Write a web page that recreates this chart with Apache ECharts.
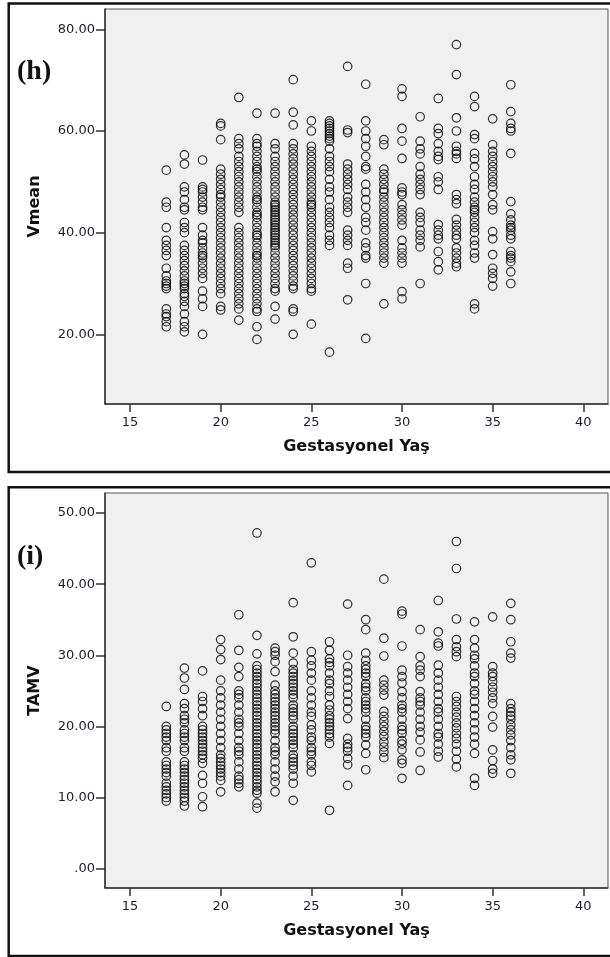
<!DOCTYPE html>
<html>
<head>
<meta charset="utf-8">
<script src="https://cdn.jsdelivr.net/npm/echarts@6/dist/echarts.min.js"></script>
<style>
  html, body { margin: 0; padding: 0; background: #fff; }
  #chart { width: 610px; height: 957px; }
</style>
</head>
<body>
<div id="chart"></div>
<script>
// gestational age (x) columns
const ages = [17, 18, 19, 20, 21, 22, 23, 24, 25, 26, 27, 28, 29, 30, 31, 32, 33, 34, 35, 36];

// Vmean readings, one list per age
const vmean = [
  [52.3, 46, 45, 41, 38.5, 37.5, 36.5, 35.5, 33, 31.5, 30.5, 30, 29.5, 29, 25, 24, 23.5, 22.5, 21.5],
  [55.3, 53.5, 49, 48, 46.5, 45, 44.5, 42, 41, 40, 37.5, 36.5, 35.5, 34.5, 33.5, 32.5, 31.5, 30.5, 30, 29.5, 29, 28, 27.5, 26.5, 25.5, 24, 22.5, 21.5, 20.5],
  [54.3, 49, 48.5, 48, 47, 46, 45, 44.5, 41, 39.5, 38.5, 38, 37, 36, 35.5, 35, 34, 33, 32, 31, 28.5, 27, 25.5, 20],
  [61.5, 61, 58.3, 52.5, 51.5, 50.5, 49.5, 48.5, 47.5, 47, 46, 45, 44, 43, 42, 41, 40, 39, 38, 37, 36, 35, 34, 33, 32, 31, 30, 29, 28, 25.5, 24.8],
  [66.6, 58.5, 57.5, 56.5, 55, 54, 53, 52, 51, 50, 49, 48, 47, 46, 45, 44, 41, 40, 39, 38, 37, 36, 35, 34, 33, 32, 31, 30, 29, 28, 27, 26, 25, 22.8],
  [63.5, 58.5, 57.5, 57, 56, 55, 54, 53, 52.5, 52, 51, 50, 49, 48, 47, 46.5, 46, 45, 44, 43.5, 43, 42, 41, 40, 39.5, 39, 38, 37, 36, 35.5, 35, 34, 33, 32, 31, 30, 29, 28, 27, 26, 25, 24.5, 21.5, 19],
  [63.5, 57.5, 56.5, 55, 54, 53, 52, 51, 50, 49, 48, 47, 46, 45.5, 45, 44.5, 44, 43.5, 43, 42.5, 42, 41.5, 41, 40.5, 40, 39.5, 39, 38.5, 38, 37.5, 37, 36, 35, 34, 33, 32, 31, 30, 29, 28.5, 25.5, 23],
  [70.1, 63.7, 61.2, 57.5, 56.5, 55.5, 54.5, 53.5, 52.5, 51.5, 50.5, 49.5, 48.5, 47.5, 46.5, 45.5, 44.5, 43.5, 42.5, 41.5, 40.5, 39.5, 38.5, 37.5, 36.5, 35.5, 34.5, 33.5, 32.5, 31.5, 30.5, 29.5, 29, 25, 24.5, 20],
  [62, 60, 57, 56, 55, 54, 53, 52, 51, 50, 49, 48, 47, 46, 45.5, 45, 44, 43, 42, 41, 40, 39, 38, 37, 36, 35, 34, 33, 32, 31, 30, 29, 28.5, 22],
  [62, 61.5, 61, 60.5, 60, 59.5, 59, 58.5, 58, 56.5, 55, 54, 53, 52, 50.5, 49, 48, 46.5, 45, 44, 43, 42, 41, 39.5, 38.5, 37.5, 16.5],
  [72.7, 60.2, 59.7, 53.5, 52.5, 51.5, 50.5, 49.5, 48.5, 47, 46, 45, 44, 40.5, 39.5, 38.5, 37.5, 34, 33, 26.8],
  [69.2, 62, 60, 58.5, 57, 55, 53, 52.5, 49.5, 48, 46.5, 45, 43, 42, 40.5, 38, 37, 35.5, 35, 30, 19.2],
  [58.3, 57.3, 52.5, 51.5, 50.5, 49.5, 48.5, 48, 47, 46, 45, 44, 43, 42, 41, 40, 39, 38, 37, 36, 35, 34, 26],
  [68.3, 66.8, 60.5, 58, 54.6, 48.8, 48, 47.5, 45.5, 44.5, 43.5, 42.5, 41.5, 38.5, 37, 36, 35, 34, 28.4, 27],
  [62.8, 58, 56.5, 55.5, 53, 51.5, 50.5, 49.5, 48.5, 47.5, 44, 43, 42, 40.5, 39.5, 38.5, 37.2, 30],
  [66.4, 60.5, 59.5, 57.5, 56, 55, 54.4, 51, 50, 48.5, 41.6, 40.5, 39.5, 38.8, 36.3, 34.3, 32.7],
  [77, 71.1, 62.6, 60, 57, 56, 55.5, 54.6, 47.5, 46.5, 45.7, 42.6, 41.5, 40.5, 39.5, 38.8, 37, 36, 35, 34, 33.3],
  [66.8, 64.8, 59.3, 58.5, 55.6, 54.5, 53, 51, 49.5, 48.5, 47, 46, 45, 44.5, 44, 43, 42, 41, 40, 38.5, 37.5, 36, 35, 26, 25],
  [62.4, 57.3, 56, 55, 54, 53, 52, 51, 50, 49, 47.5, 45.5, 44.5, 40.2, 38.8, 35.7, 33, 32, 31, 29.5],
  [69.1, 63.8, 61.5, 60.5, 60, 55.6, 46.1, 43.7, 42.5, 41.5, 41, 40.5, 39.5, 38.8, 36.3, 35.5, 35, 34.3, 32.3, 30]
];

// TAMV readings, one list per age
const tamv = [
  [22.8, 20, 19.5, 19, 18.5, 18, 17, 16.5, 15, 14.5, 14, 13.5, 13, 12, 11.5, 11, 10.5, 10, 9.5],
  [28.2, 26.8, 25.2, 23.2, 22.5, 21.5, 21, 20.5, 19.5, 19, 18.5, 18, 17, 16.5, 15, 14.5, 14, 13.5, 13, 12.5, 12, 11.5, 11, 10.5, 10, 9.5, 8.8],
  [27.8, 24.2, 23.5, 22.5, 21.5, 20, 19.5, 19, 18.5, 18, 17.5, 17, 16.5, 16, 15.5, 14.8, 13.1, 12, 10.1, 8.7],
  [32.2, 30.8, 29.4, 26.5, 25, 24, 23, 22, 21, 20, 19, 18, 17, 16, 15.5, 15, 14.5, 14, 13.5, 13, 12.4, 10.8],
  [35.7, 30.7, 28.3, 27, 25, 24.5, 24, 23, 22, 21, 20.5, 20, 19, 18, 17, 16.5, 16, 15, 14, 13, 12.5, 12, 11.5],
  [47.2, 32.8, 30.2, 28.5, 28, 27.5, 27, 26.5, 26, 25.5, 25, 24.5, 24, 23.5, 23, 22.5, 22, 21.5, 21, 20.5, 20, 19.5, 19, 18.5, 18, 17.5, 17, 16.5, 16, 15.5, 15, 14.5, 14, 13.5, 13, 12.5, 12, 11.5, 11, 10.6, 9.2, 8.5],
  [31, 30.5, 30, 29.1, 27.7, 25.8, 25, 24.5, 24, 23.5, 23, 22.5, 22, 21.5, 21, 20.5, 20, 19.5, 19, 18, 17, 16.5, 16, 15, 14, 13, 12.2, 10.8],
  [37.4, 32.6, 30.3, 28.9, 28, 27.5, 27, 26.5, 26, 25.5, 25, 24.5, 24, 23, 22.5, 22, 21.5, 21, 20, 19.5, 19, 18.5, 18, 17.5, 17, 16, 15.5, 15, 14.5, 14, 13, 12, 9.6],
  [43, 30.5, 29.3, 28.5, 27.5, 26.5, 25, 24, 23, 22, 21.4, 20.2, 19.5, 18.5, 18, 17, 16.5, 16, 15, 14.5, 13.6],
  [31.9, 30.7, 29.5, 29, 28.5, 27.5, 26.5, 26, 25, 24.2, 23, 22.3, 21.5, 21, 20.5, 20, 19.5, 19, 18.5, 17.6, 8.2],
  [37.2, 30, 28.4, 27.5, 26.5, 25.5, 24.5, 23.5, 22.5, 21.1, 18.3, 17.5, 17, 16.5, 15.5, 14.6, 11.7],
  [35, 33.6, 30.3, 29.3, 28.5, 28, 27.5, 27, 26, 25.5, 25, 24, 23.5, 23, 22.5, 22, 21, 20, 19.5, 19, 18.5, 17.4, 16.2, 13.9],
  [40.7, 32.4, 29.9, 26.5, 25.8, 25.1, 24.4, 22.1, 21.4, 20.7, 20, 19.3, 18.6, 17.8, 17.1, 16.4, 15.6],
  [36.2, 35.8, 31.3, 27.9, 27, 26.1, 24.9, 24, 23, 22.5, 22, 21, 20, 19.5, 19, 18, 17.5, 16.7, 15.3, 14.8, 12.7],
  [33.6, 29.8, 28.5, 27.9, 27, 24.9, 24, 23.5, 23, 22, 21, 20, 19.2, 18.1, 16.4, 13.8],
  [37.7, 33.3, 31.7, 31.3, 28.6, 27.5, 26.5, 25.5, 24.5, 23.5, 22.5, 22, 21, 20, 19, 18.5, 17.5, 16.5, 15.7],
  [46, 42.2, 35.1, 32.2, 31.2, 30.5, 29.8, 24.2, 23.5, 22.8, 22, 21.3, 20.5, 19.8, 19, 18.3, 17.5, 16.5, 15.4, 14.3],
  [34.7, 32.2, 31, 30, 29.5, 28.5, 27.5, 27, 26, 25, 24.5, 23.5, 22.5, 21.5, 20.5, 19.5, 18.5, 17.5, 16.2, 12.7, 11.7],
  [35.4, 28.4, 27.5, 27, 26.3, 25.5, 24.8, 24, 23.2, 21.4, 19.9, 16.7, 15.2, 14, 13.4],
  [37.3, 35, 31.9, 30.3, 29.6, 23.2, 22.5, 22, 21.5, 21, 20.2, 19.5, 18.8, 18, 17, 16, 15.3, 13.4]
];

// tick labels
const xTicks = [15, 20, 25, 30, 35, 40];
const vmeanTicks = [20, 40, 60, 80];
const tamvTicks = [0, 10, 20, 30, 40, 50];

const toPoints = (cols) => ages.flatMap((a, i) => cols[i].map((v) => [a, v]));

const labelFont = { fontFamily: "DejaVu Sans", fontSize: 13, color: "#1c1c2c" };
const nameFont = { fontFamily: "DejaVu Sans", fontSize: 16, fontWeight: "bold", color: "#111" };

const xAxisFor = (gridIndex) => ({
  gridIndex,
  type: "value",
  min: 13.62,
  max: 41.36,
  name: "Gestasyonel Yaş",
  nameLocation: "middle",
  nameGap: 35,
  nameTextStyle: nameFont,
  splitLine: { show: false },
  axisLine: { show: true, onZero: false, lineStyle: { color: "#333", width: 1.5 } },
  axisTick: { show: true, length: 8, customValues: xTicks, lineStyle: { color: "#333", width: 1.5 } },
  axisLabel: { ...labelFont, margin: 12, customValues: xTicks },
});

const yAxisFor = (gridIndex, name, min, max, ticks) => ({
  gridIndex,
  type: "value",
  min,
  max,
  name,
  nameLocation: "middle",
  nameGap: 62,
  nameTextStyle: nameFont,
  splitLine: { show: false },
  axisLine: { show: true, onZero: false, lineStyle: { color: "#333", width: 1.5 } },
  axisTick: { show: true, length: 9, customValues: ticks, lineStyle: { color: "#333", width: 1.5 } },
  axisLabel: {
    ...labelFont,
    margin: 10,
    customValues: ticks,
    formatter: (v) => (v === 0 ? ".00" : v.toFixed(2)),
  },
});

const circle = {
  type: "scatter",
  symbol: "circle",
  symbolSize: 8.5,
  itemStyle: { color: "rgba(0,0,0,0)", borderColor: "#000", borderWidth: 1.2 },
  emphasis: { disabled: true },
};

const myChart = echarts.init(document.getElementById("chart"));
myChart.setOption({
  animation: false,
  backgroundColor: "#fff",
  grid: [
    { left: 105, top: 9, width: 503, height: 395, show: true, backgroundColor: "#f0f0f0", borderColor: "#555", borderWidth: 1 },
    { left: 105, top: 493, width: 503, height: 395, show: true, backgroundColor: "#f0f0f0", borderColor: "#555", borderWidth: 1 },
  ],
  xAxis: [xAxisFor(0), xAxisFor(1)],
  yAxis: [
    yAxisFor(0, "Vmean", 6.3, 84, vmeanTicks),
    yAxisFor(1, "TAMV", -2.73, 52.82, tamvTicks),
  ],
  series: [
    { ...circle, xAxisIndex: 0, yAxisIndex: 0, data: toPoints(vmean) },
    { ...circle, xAxisIndex: 1, yAxisIndex: 1, data: toPoints(tamv) },
  ],
  graphic: [
    // panel frames
    { type: "rect", shape: { x: 8.7, y: 3.5, width: 610, height: 468.5 }, style: { fill: "none", stroke: "#111", lineWidth: 2.5 }, silent: true },
    { type: "rect", shape: { x: 8.7, y: 487.3, width: 610, height: 468.7 }, style: { fill: "none", stroke: "#111", lineWidth: 2.5 }, silent: true },
    // panel letters
    { type: "text", left: 17, top: 58, style: { text: "(h)", font: "bold 28px 'Liberation Serif'", fill: "#111" }, silent: true },
    { type: "text", left: 17, top: 543, style: { text: "(i)", font: "bold 28px 'Liberation Serif'", fill: "#111" }, silent: true },
  ],
});
</script>
</body>
</html>
